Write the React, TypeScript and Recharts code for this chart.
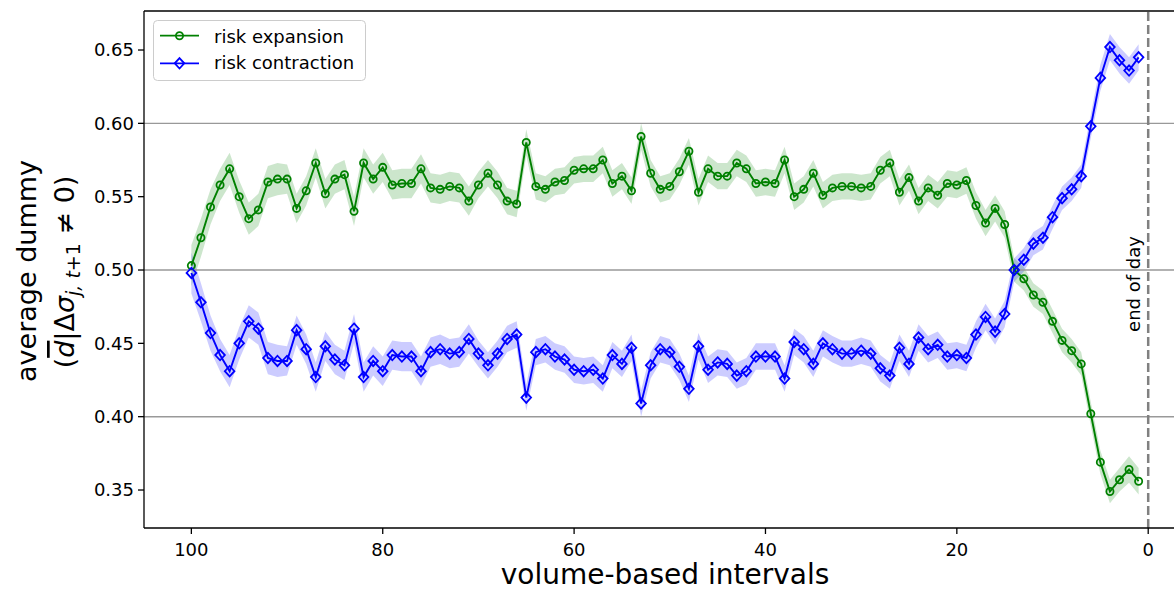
import React from 'react';
import { ComposedChart, Line, Area, XAxis, YAxis, ReferenceLine, Customized } from 'recharts';

const intervals = [
  100, 99, 98, 97, 96, 95, 94, 93, 92, 91, 90, 89, 88, 87, 86, 85, 84, 83, 82, 81,
  80, 79, 78, 77, 76, 75, 74, 73, 72, 71, 70, 69, 68, 67, 66, 65, 64, 63, 62, 61,
  60, 59, 58, 57, 56, 55, 54, 53, 52, 51, 50, 49, 48, 47, 46, 45, 44, 43, 42, 41,
  40, 39, 38, 37, 36, 35, 34, 33, 32, 31, 30, 29, 28, 27, 26, 25, 24, 23, 22, 21,
  20, 19, 18, 17, 16, 15, 14, 13, 12, 11, 10, 9, 8, 7, 6, 5, 4, 3, 2, 1,
];

const riskExpansion = [
  0.503, 0.522, 0.543, 0.558, 0.569, 0.550, 0.535, 0.541, 0.560, 0.562,
  0.562, 0.542, 0.554, 0.573, 0.552, 0.562, 0.565, 0.540, 0.573, 0.562,
  0.570, 0.558, 0.559, 0.559, 0.569, 0.556, 0.555, 0.557, 0.556, 0.547,
  0.558, 0.566, 0.558, 0.547, 0.545, 0.587, 0.557, 0.555, 0.560, 0.561,
  0.568, 0.569, 0.569, 0.575, 0.559, 0.564, 0.554, 0.591, 0.566, 0.555,
  0.557, 0.567, 0.581, 0.553, 0.569, 0.564, 0.564, 0.573, 0.569, 0.559,
  0.560, 0.559, 0.575, 0.550, 0.555, 0.566, 0.551, 0.556, 0.557, 0.557,
  0.556, 0.557, 0.568, 0.573, 0.553, 0.563, 0.547, 0.556, 0.551, 0.559,
  0.558, 0.561, 0.544, 0.532, 0.542, 0.531, 0.500, 0.494, 0.483, 0.478,
  0.465, 0.452, 0.445, 0.436, 0.402, 0.369, 0.349, 0.357, 0.364, 0.356,
];

const riskContraction = [
  0.498, 0.478, 0.457, 0.442, 0.431, 0.450, 0.465, 0.460, 0.440, 0.438,
  0.438, 0.459, 0.446, 0.427, 0.448, 0.439, 0.435, 0.460, 0.427, 0.438,
  0.431, 0.442, 0.441, 0.441, 0.431, 0.444, 0.446, 0.443, 0.444, 0.453,
  0.443, 0.435, 0.443, 0.453, 0.456, 0.413, 0.444, 0.446, 0.441, 0.439,
  0.432, 0.431, 0.432, 0.426, 0.442, 0.436, 0.447, 0.409, 0.435, 0.446,
  0.444, 0.434, 0.419, 0.448, 0.432, 0.437, 0.436, 0.428, 0.431, 0.441,
  0.441, 0.441, 0.426, 0.451, 0.446, 0.436, 0.450, 0.446, 0.443, 0.443,
  0.445, 0.443, 0.433, 0.428, 0.447, 0.436, 0.454, 0.446, 0.449, 0.441,
  0.442, 0.440, 0.456, 0.468, 0.458, 0.470, 0.500, 0.507, 0.518, 0.522,
  0.536, 0.549, 0.555, 0.564, 0.598, 0.631, 0.652, 0.643, 0.636, 0.645,
];

// half-width of the shaded confidence bands
const expansionBand = [
  0.014, 0.013, 0.012, 0.011, 0.011, 0.011, 0.011, 0.011, 0.011, 0.011,
  0.010, 0.010, 0.010, 0.010, 0.010, 0.010, 0.010, 0.010, 0.010, 0.010,
  0.010, 0.010, 0.010, 0.010, 0.010, 0.010, 0.010, 0.010, 0.010, 0.010,
  0.009, 0.009, 0.009, 0.009, 0.009, 0.009, 0.009, 0.009, 0.009, 0.009,
  0.009, 0.009, 0.009, 0.009, 0.009, 0.009, 0.009, 0.009, 0.009, 0.009,
  0.009, 0.009, 0.009, 0.009, 0.009, 0.009, 0.009, 0.009, 0.009, 0.009,
  0.009, 0.009, 0.009, 0.009, 0.009, 0.009, 0.009, 0.009, 0.009, 0.009,
  0.009, 0.009, 0.009, 0.009, 0.009, 0.009, 0.009, 0.009, 0.009, 0.009,
  0.009, 0.009, 0.009, 0.009, 0.009, 0.009, 0.008, 0.008, 0.008, 0.008,
  0.008, 0.008, 0.008, 0.008, 0.008, 0.008, 0.008, 0.008, 0.009, 0.009,
];

const contractionBand = [
  0.014, 0.013, 0.012, 0.011, 0.011, 0.011, 0.011, 0.011, 0.011, 0.011,
  0.010, 0.010, 0.010, 0.010, 0.010, 0.010, 0.010, 0.010, 0.010, 0.010,
  0.010, 0.010, 0.010, 0.010, 0.010, 0.010, 0.010, 0.010, 0.010, 0.010,
  0.009, 0.009, 0.009, 0.009, 0.009, 0.009, 0.009, 0.009, 0.009, 0.009,
  0.009, 0.009, 0.009, 0.009, 0.009, 0.009, 0.009, 0.009, 0.009, 0.009,
  0.009, 0.009, 0.009, 0.009, 0.009, 0.009, 0.009, 0.009, 0.009, 0.009,
  0.009, 0.009, 0.009, 0.009, 0.009, 0.009, 0.009, 0.009, 0.009, 0.009,
  0.009, 0.009, 0.009, 0.009, 0.009, 0.009, 0.009, 0.009, 0.009, 0.009,
  0.009, 0.009, 0.009, 0.009, 0.009, 0.009, 0.008, 0.008, 0.008, 0.008,
  0.008, 0.008, 0.008, 0.008, 0.008, 0.009, 0.009, 0.009, 0.009, 0.009,
];

const xTicks = [100, 80, 60, 40, 20, 0];
const yTicks = [0.35, 0.4, 0.45, 0.5, 0.55, 0.6, 0.65];
const gridLevels = [0.4, 0.5, 0.6];
const xDomain: [number, number] = [-3.95, 104.95];
const yDomain: [number, number] = [0.3241, 0.6766];

const data = intervals.map((x, i) => ({
  x,
  exp: riskExpansion[i],
  con: riskContraction[i],
  expBand: [riskExpansion[i] - expansionBand[i], riskExpansion[i] + expansionBand[i]],
  conBand: [riskContraction[i] - contractionBand[i], riskContraction[i] + contractionBand[i]],
}));

const FONT = 'DejaVu Sans';
const GREEN = '#008000';
const BLUE = '#0000ff';

const DiamondDot = (props: any) => {
  const { cx, cy, index } = props;
  if (cx == null || cy == null) return <g key={`dd-${index}`} />;
  const rx = 4.8;
  const ry = 5.2;
  return (
    <path
      key={`dd-${index}`}
      d={`M${cx},${cy - ry}L${cx + rx},${cy}L${cx},${cy + ry}L${cx - rx},${cy}Z`}
      fill="none"
      stroke={BLUE}
      strokeWidth={1.8}
    />
  );
};

const Overlay = () => (
  <g fontFamily={FONT}>
    {/* legend */}
    <rect x={153.5} y={20.5} width={212} height={60} rx={4} ry={4} fill="#ffffff" fillOpacity={0.8} stroke="#cccccc" strokeWidth={1} />
    <line x1={160} x2={199} y1={35.7} y2={35.7} stroke={GREEN} strokeWidth={1.8} />
    <circle cx={179.5} cy={35.7} r={3.6} fill="none" stroke={GREEN} strokeWidth={1.8} />
    <text x={214} y={42.5} fontSize={18} fill="#000">risk expansion</text>
    <line x1={160} x2={199} y1={63.3} y2={63.3} stroke={BLUE} strokeWidth={1.8} />
    <path d="M179.5,58.1L184.3,63.3L179.5,68.5L174.7,63.3Z" fill="none" stroke={BLUE} strokeWidth={1.8} />
    <text x={214} y={69.3} fontSize={18} fill="#000">risk contraction</text>
    {/* x label */}
    <text x={665} y={584} fontSize={28} textAnchor="middle" fill="#000">volume-based intervals</text>
    {/* y label */}
    <text x={36} y={271} fontSize={27} textAnchor="middle" fill="#000" transform="rotate(-90, 36, 271)">average dummy</text>
    <text x={74} y={272} fontSize={27} textAnchor="middle" fill="#000" transform="rotate(-90, 74, 272)">
      (<tspan fontStyle="italic" style={{ textDecoration: 'overline' }}>d</tspan>|Δ<tspan fontStyle="italic">σ</tspan>
      <tspan fontSize={19} dy={6} fontStyle="italic">j, t</tspan>
      <tspan fontSize={19}>+1</tspan>
      <tspan dy={-6}> ≠ 0)</tspan>
    </text>
    {/* end of day */}
    <text x={1140} y={284} fontSize={18} textAnchor="middle" fill="#000" transform="rotate(-90, 1140, 284)">end of day</text>
  </g>
);

export default function App() {
  return (
    <div style={{ position: 'fixed', left: 0, top: 0, width: 1174, height: 591, overflow: 'hidden', background: '#ffffff' }}>
      <ComposedChart width={1200} height={591} data={data} margin={{ top: 11, right: 14, bottom: 0, left: 0 }}>
        <XAxis
          dataKey="x"
          type="number"
          domain={xDomain}
          reversed
          allowDataOverflow
          ticks={xTicks}
          height={63}
          tickSize={6}
          tickMargin={9}
          axisLine={{ stroke: '#000', strokeWidth: 1.3 }}
          tickLine={{ stroke: '#000', strokeWidth: 1.3 }}
          tick={{ fill: '#000', fontSize: 18, fontFamily: FONT }}
        />
        <YAxis
          type="number"
          domain={yDomain}
          allowDataOverflow
          ticks={yTicks}
          width={144}
          tickSize={6}
          tickMargin={4}
          tickFormatter={(v: number) => v.toFixed(2)}
          axisLine={{ stroke: '#000', strokeWidth: 1.3 }}
          tickLine={{ stroke: '#000', strokeWidth: 1.3 }}
          tick={{ fill: '#000', fontSize: 18, fontFamily: FONT }}
        />
        {gridLevels.map((g) => (
          <ReferenceLine key={`g${g}`} y={g} stroke="#999999" strokeWidth={1.4} />
        ))}
        <ReferenceLine y={yDomain[1]} stroke="#000" strokeWidth={1.3} />
        <Area dataKey="expBand" type="linear" stroke="none" fill={GREEN} fillOpacity={0.2} isAnimationActive={false} dot={false} activeDot={false} />
        <Line dataKey="exp" type="linear" stroke={GREEN} strokeWidth={1.9} dot={{ r: 3.6, fill: 'none', stroke: GREEN, strokeWidth: 1.8 }} activeDot={false} isAnimationActive={false} />
        <Area dataKey="conBand" type="linear" stroke="none" fill={BLUE} fillOpacity={0.2} isAnimationActive={false} dot={false} activeDot={false} />
        <Line dataKey="con" type="linear" stroke={BLUE} strokeWidth={1.9} dot={DiamondDot} activeDot={false} isAnimationActive={false} />
        <ReferenceLine x={0} stroke="#808080" strokeWidth={2.5} strokeDasharray="9 4" />
        <Customized component={Overlay} />
      </ComposedChart>
    </div>
  );
}
